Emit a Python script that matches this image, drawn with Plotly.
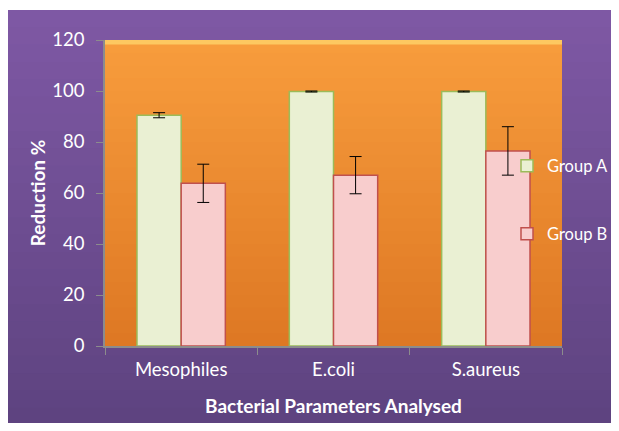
import plotly.graph_objects as go

categories = ["Mesophiles", "E.coli", "S.aureus"]
group_a = [90.5, 99.8, 99.8]
group_a_err = [1.0, 0.2, 0.2]
group_b = [63.8, 67.0, 76.5]
group_b_err = [7.5, 7.3, 9.5]
y_ticks = [0, 20, 40, 60, 80, 100, 120]

FONT = "Lato"

def lerp(c1, c2, t):
    return "rgb(%d,%d,%d)" % tuple(round(a + (b - a) * t) for a, b in zip(c1, c2))

# The page body has an 8px margin, so the figure is drawn 8px in from the top-left.
OFF = 8
W, H = 619 - 2 * OFF, 431 - 2 * OFF
L, T = 105 - OFF, 40 - OFF
R = W - (562 - OFF)
B = H - (346 - OFF)
pw, ph = W - L - R, H - T - B

def px_to_paper_x(page_x):
    return (page_x - OFF - L) / pw

def px_to_paper_y(page_y):
    return (H - B - (page_y - OFF)) / ph

shapes = []
n = 24
# purple page background gradient
px0, px1 = px_to_paper_x(7) - 0.01, px_to_paper_x(619) + 0.01
py_top, py_bot = px_to_paper_y(10), px_to_paper_y(425)
step = (py_top - py_bot) / n
for i in range(n):
    y1 = py_top - step * i
    y0 = y1 - step * 1.6 if i < n - 1 else py_bot
    shapes.append(dict(type="rect", xref="paper", yref="paper", x0=px0, x1=px1,
                       y0=y0, y1=y1, fillcolor=lerp((126, 88, 164), (94, 67, 128), i / (n - 1)),
                       line=dict(width=0), layer="below"))
# orange plot area gradient
step = 1.0 / n
for i in range(n):
    y1 = 1 - step * i
    y0 = y1 - step * 1.6 if i < n - 1 else 0
    shapes.append(dict(type="rect", xref="paper", yref="paper", x0=0, x1=1,
                       y0=y0, y1=y1, fillcolor=lerp((247, 156, 60), (222, 120, 36), i / (n - 1)),
                       line=dict(width=0), layer="below"))
# light top edge of the plot area
shapes.append(dict(type="rect", xref="paper", yref="paper", x0=0, x1=1, y0=0.985, y1=1.0,
                   fillcolor="rgba(255,215,110,0.75)", line=dict(width=0), layer="below"))

fig = go.Figure()
fig.add_trace(go.Bar(
    x=categories, y=group_a, name="Group A", showlegend=True,
    marker=dict(color="#EAF0D3", line=dict(color="#9BBB59", width=1.5)),
    error_y=dict(type="data", array=group_a_err, color="black", thickness=1, width=6),
    legend="legend",
))
fig.add_trace(go.Bar(
    x=categories, y=group_b, name="Group B", showlegend=True,
    marker=dict(color="#F8CDCD", line=dict(color="#C0504D", width=1.5)),
    error_y=dict(type="data", array=group_b_err, color="black", thickness=1, width=6),
    legend="legend2",
))

legend_common = dict(bgcolor="rgba(0,0,0,0)", font=dict(family=FONT, size=16.5, color="white"),
                     xanchor="left", yanchor="middle", itemwidth=30)
lx = px_to_paper_x(527 - 20)
fig.update_layout(
    width=W, height=H,
    margin=dict(l=L, r=R, t=T, b=B, autoexpand=False),
    paper_bgcolor="white",
    plot_bgcolor="rgba(0,0,0,0)",
    showlegend=True,
    barmode="group", bargap=0.42, bargroupgap=0,
    shapes=shapes,
    legend=dict(x=lx, y=px_to_paper_y(166), **legend_common),
    legend2=dict(x=lx, y=px_to_paper_y(234), **legend_common),
    xaxis=dict(
        showline=True, linecolor="#8C8C8C", linewidth=1.5,
        ticks="outside", tickson="boundaries", ticklen=7, tickcolor="#8C8C8C",
        tickfont=dict(family=FONT, size=18.5, color="white"),
        ticklabelstandoff=6,
        title=dict(text="<b>Bacterial Parameters Analysed</b>", font=dict(family=FONT, size=19, color="white"), standoff=21),
        showgrid=False,
    ),
    yaxis=dict(
        range=[0, 120], tickvals=y_ticks,
        showline=True, linecolor="#8C8C8C", linewidth=1.5,
        ticks="outside", ticklen=7, tickcolor="#8C8C8C",
        tickfont=dict(family=FONT, size=18.5, color="white"),
        ticklabelstandoff=8,
        title=dict(text="<b>Reduction %</b>", font=dict(family=FONT, size=19, color="white"), standoff=2),
        showgrid=False, zeroline=False,
    ),
)
fig.write_html("out.html")
